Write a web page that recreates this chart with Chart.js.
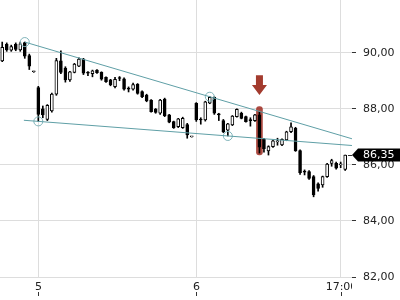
<!DOCTYPE html>
<html>
<head>
<meta charset="utf-8">
<script src="https://cdn.jsdelivr.net/npm/chart.js@4.4.1/dist/chart.umd.min.js"></script>
<style>
  html, body { margin: 0; padding: 0; background: #fff; }
</style>
</head>
<body>
<canvas id="chart" width="400" height="300"></canvas>
<script>
// 15 min candles, index 0 = first candle on screen
const opens  = [89.71, 90.30, 90.09, 90.30, 90.10, 90.36, 89.90, 89.32, 88.76, 88.00,
                87.62, 87.92, 88.52, 89.71, 89.45, 89.03, 89.30, 89.52, 89.77, 89.28,
                89.25, 89.38, 89.30, 89.12, 89.03, 88.79, 89.09, 89.07, 88.72, 88.70,
                88.87, 88.61, 88.49, 88.31, 87.99, 87.84, 88.35, 87.78, 87.54, 87.36,
                87.33, 87.44, 87.00, 88.19, 87.62, 87.60, 88.20, 88.41, 87.80, 87.58,
                87.24, 87.42, 87.72, 87.84, 87.72, 87.60, 87.58, 87.78, 86.91, 86.50,
                86.65, 86.82, 86.71, 86.89, 87.18, 87.30, 86.51, 85.76, 85.76, 85.58,
                85.32, 85.28, 85.58, 86.05, 86.05, 86.00, 85.84];
const highs  = [90.38, 90.35, 90.27, 90.35, 90.38, 90.38, 89.95, 89.34, 88.80, 88.10,
                88.15, 88.56, 89.80, 90.07, 89.50, 89.34, 89.62, 89.82, 89.80, 89.33,
                89.38, 89.40, 89.32, 89.14, 89.05, 89.12, 89.15, 89.10, 88.78, 88.92,
                88.90, 88.64, 88.52, 88.33, 88.01, 88.34, 88.38, 87.80, 87.56, 87.66,
                87.70, 87.48, 87.01, 88.22, 87.68, 88.27, 88.43, 88.43, 87.84, 87.62,
                87.48, 87.76, 88.00, 87.88, 87.74, 87.68, 87.80, 87.90, 86.95, 86.68,
                86.88, 86.95, 86.93, 87.20, 87.50, 87.34, 86.54, 85.82, 85.80, 85.62,
                85.36, 85.60, 86.05, 86.20, 86.10, 86.10, 86.35];
const lows   = [89.68, 90.05, 90.05, 90.07, 90.05, 89.80, 89.40, 89.30, 87.55, 87.68,
                87.58, 87.88, 88.48, 89.25, 88.95, 88.98, 89.28, 89.50, 89.22, 89.18,
                89.14, 89.26, 89.02, 88.94, 88.82, 88.74, 89.00, 88.66, 88.60, 88.66,
                88.52, 88.40, 88.25, 87.88, 87.84, 87.80, 87.72, 87.50, 87.30, 87.33,
                87.30, 86.95, 86.99, 87.55, 87.45, 87.56, 88.18, 87.80, 87.58, 87.15,
                87.03, 87.40, 87.70, 87.64, 87.52, 87.38, 87.55, 86.42, 86.45, 86.35,
                86.62, 86.70, 86.68, 86.86, 87.15, 86.48, 85.66, 85.64, 85.48, 84.86,
                85.06, 85.20, 85.55, 85.95, 85.85, 85.90, 85.80];
const closes = [90.19, 90.10, 90.22, 90.12, 90.32, 89.88, 89.52, 89.32, 87.80, 87.78,
                88.12, 88.52, 89.72, 89.30, 89.03, 89.32, 89.59, 89.77, 89.27, 89.27,
                89.35, 89.29, 89.06, 88.97, 88.85, 89.05, 89.08, 88.70, 88.70, 88.86,
                88.55, 88.43, 88.28, 87.90, 87.87, 88.31, 87.75, 87.52, 87.33, 87.64,
                87.66, 87.07, 87.00, 87.60, 87.60, 88.25, 88.41, 87.84, 87.78, 87.18,
                87.46, 87.74, 87.98, 87.66, 87.54, 87.58, 87.78, 86.63, 86.58, 86.65,
                86.86, 86.83, 86.91, 87.18, 87.36, 86.51, 85.72, 85.74, 85.52, 84.93,
                85.16, 85.58, 86.03, 86.15, 85.88, 86.01, 86.35];

const xTickIdx = [8, 43, 75];
const xTickLabels = ['5', '6', '17:00'];
const yTicks = [82, 84, 86, 88, 90];

// trend lines [index, price]
const upperLine = [[5, 90.38], [77.5, 86.93]];
const lowerLine = [[4.8, 87.59], [77.5, 86.69]];
const touchIdx = [5, 46, 8, 50];
const touchPrice = [90.38, 88.43, 87.55, 87.03];

// highlighted candle + arrow
const markIdx = 57;
const markRange = [86.35, 88.08];
const arrowTop = 89.20;
const arrowTip = 88.49;

const teal = '#5f9fa6';
const red = 'rgba(158, 42, 32, 0.85)';
const font = { family: 'DejaVu Sans', size: 11 };

const idx = closes.map((c, i) => i);
const up = closes.map((c, i) => c >= opens[i]);

// no extra padding around the plot
function noPad(s) {
    s.paddingLeft = 0; s.paddingRight = 0;
    s.paddingTop = 0; s.paddingBottom = 0;
}

const overlay = {
    id: 'overlay',
    afterDatasetsDraw(chart) {
        const ctx = chart.ctx;
        const xs = chart.scales.x, ys = chart.scales.y;
        // arrow above the marked candle
        const cx = xs.getPixelForValue(markIdx);
        const yTop = ys.getPixelForValue(arrowTop);
        const yTip = ys.getPixelForValue(arrowTip);
        const yNeck = yTip - 10;
        ctx.save();
        ctx.fillStyle = '#a33b2e';
        ctx.beginPath();
        ctx.moveTo(cx - 3.5, yTop);
        ctx.lineTo(cx + 3.5, yTop);
        ctx.lineTo(cx + 3.5, yNeck);
        ctx.lineTo(cx + 7.5, yNeck);
        ctx.lineTo(cx, yTip);
        ctx.lineTo(cx - 7.5, yNeck);
        ctx.lineTo(cx - 3.5, yNeck);
        ctx.closePath();
        ctx.fill();
        ctx.restore();
    },
    afterDraw(chart) {
        const ctx = chart.ctx;
        const area = chart.chartArea;
        const xs = chart.scales.x, ys = chart.scales.y;
        ctx.save();
        // x labels, clipped to the plot width
        ctx.beginPath();
        ctx.rect(0, area.bottom, area.right, chart.height - area.bottom);
        ctx.clip();
        ctx.font = '11px "DejaVu Sans"';
        ctx.fillStyle = '#222';
        ctx.textAlign = 'center';
        ctx.textBaseline = 'middle';
        ctx.strokeStyle = '#333';
        ctx.lineWidth = 1;
        xTickIdx.forEach((v, i) => {
            const px = Math.round(xs.getPixelForValue(v)) + 0.5;
            ctx.fillText(xTickLabels[i], px, area.bottom + 10);
            ctx.beginPath();
            ctx.moveTo(px, area.bottom + 15);
            ctx.lineTo(px, area.bottom + 19);
            ctx.stroke();
        });
        ctx.restore();

        // last price tag
        const last = closes[closes.length - 1];
        const py = ys.getPixelForValue(last);
        const x0 = area.right;
        ctx.save();
        ctx.strokeStyle = '#333';
        ctx.beginPath();
        ctx.moveTo(x0 - 4, Math.round(py) + 0.5);
        ctx.lineTo(x0, Math.round(py) + 0.5);
        ctx.stroke();
        ctx.fillStyle = '#000';
        ctx.beginPath();
        ctx.moveTo(x0, py);
        ctx.lineTo(x0 + 6, py - 6.5);
        ctx.lineTo(chart.width, py - 6.5);
        ctx.lineTo(chart.width, py + 6.5);
        ctx.lineTo(x0 + 6, py + 6.5);
        ctx.closePath();
        ctx.fill();
        ctx.fillStyle = '#fff';
        ctx.font = '11px "DejaVu Sans"';
        ctx.textAlign = 'left';
        ctx.textBaseline = 'middle';
        ctx.fillText(last.toFixed(2).replace('.', ','), x0 + 11, py + 0.5);
        ctx.restore();
    }
};

new Chart(document.getElementById('chart'), {
    type: 'bar',
    data: {
        datasets: [
            {
                type: 'line',
                data: upperLine.map(p => ({ x: p[0], y: p[1] })),
                borderColor: teal, borderWidth: 1, pointRadius: 0, order: 0
            },
            {
                type: 'line',
                data: lowerLine.map(p => ({ x: p[0], y: p[1] })),
                borderColor: teal, borderWidth: 1, pointRadius: 0, order: 0
            },
            {
                type: 'line',
                data: touchIdx.map((v, i) => ({ x: v, y: touchPrice[i] })),
                showLine: false, pointRadius: 4.5, pointBorderWidth: 1,
                pointBorderColor: '#7fb3b9', pointBackgroundColor: 'rgba(0,0,0,0)', order: 0
            },
            {
                // bodies
                data: idx.map(i => ({ x: i, y: [opens[i], closes[i]] })),
                backgroundColor: up.map(u => u ? '#fff' : '#000'),
                borderColor: '#000', borderWidth: 1, borderSkipped: false,
                barThickness: 3, minBarLength: 1, grouped: false, order: 1
            },
            {
                // wicks
                data: idx.map(i => ({ x: i, y: [lows[i], highs[i]] })),
                backgroundColor: '#000', borderWidth: 0,
                barThickness: 1, grouped: false, order: 2
            },
            {
                data: [{ x: markIdx, y: markRange }],
                backgroundColor: red, borderWidth: 0, borderRadius: 3, borderSkipped: false,
                barThickness: 6, grouped: false, order: 3
            }
        ]
    },
    options: {
        responsive: false,
        animation: false,
        layout: { padding: 0, autoPadding: false },
        plugins: { legend: { display: false }, tooltip: { enabled: false } },
        scales: {
            x: {
                type: 'linear',
                min: -0.49, max: 77.51,
                offset: false,
                afterBuildTicks: s => { s.ticks = xTickIdx.map(v => ({ value: v })); },
                afterFit: s => { s.height = 23; noPad(s); },
                grid: { color: '#dddddd', drawTicks: false, offset: false },
                border: { display: false },
                ticks: { display: false }
            },
            y: {
                position: 'right',
                min: 82, max: 91.88,
                afterBuildTicks: s => { s.ticks = yTicks.map(v => ({ value: v })); },
                afterFit: s => { s.width = 48; noPad(s); },
                grid: { color: '#dddddd', tickColor: '#333', tickLength: 4 },
                border: { display: false },
                ticks: {
                    padding: 7, color: '#222', font: font,
                    callback: v => v.toFixed(2).replace('.', ',')
                }
            }
        }
    },
    plugins: [overlay]
});
</script>
</body>
</html>
